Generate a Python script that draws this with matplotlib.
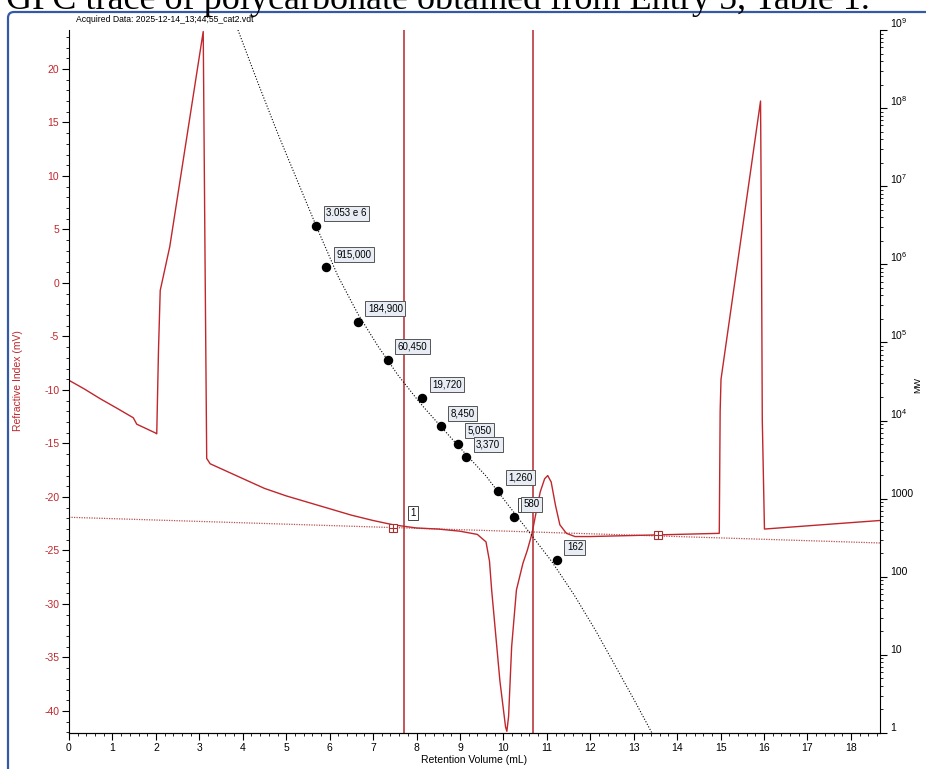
import matplotlib
matplotlib.use("Agg")
import matplotlib.pyplot as plt
import numpy as np
from matplotlib.patches import FancyBboxPatch
from matplotlib.ticker import FixedLocator, MultipleLocator, NullFormatter

plt.rcParams['font.family'] = ['Liberation Sans', 'DejaVu Sans']
plt.rcParams['mathtext.fontset'] = 'custom'
plt.rcParams['mathtext.rm'] = 'Liberation Sans'
plt.rcParams['axes.unicode_minus'] = False

# refractive index trace (mL, mV)
ri_x = [0.00, 0.35, 0.71, 1.10, 1.48, 1.56, 1.98, 2.02, 2.06, 2.10, 2.32, 3.09, 3.13, 3.17,
        3.25, 4.01, 4.50, 5.00, 5.50, 6.00, 6.50, 7.00, 7.46, 8.00, 8.50, 9.00, 9.40, 9.60,
        9.68, 9.73, 9.92, 10.05, 10.08, 10.12, 10.19, 10.30, 10.45, 10.55, 10.66, 10.75,
        10.85, 10.95, 11.02, 11.10, 11.20, 11.30, 11.45, 11.65, 12.00, 13.00, 14.00, 14.97,
        14.99, 15.01, 15.92, 15.94, 15.96, 16.01, 17.00, 18.00, 18.67]
ri_mv = [-9.1, -9.9, -10.8, -11.7, -12.6, -13.2, -14.0, -14.1, -6.3, -0.7, 3.4, 23.5, 3.1, -16.4,
         -16.9, -18.3, -19.2, -19.9, -20.5, -21.1, -21.7, -22.2, -22.6, -22.9, -23.0, -23.2, -23.5, -24.2,
         -26.0, -28.7, -37.2, -41.5, -41.9, -40.5, -34.0, -28.7, -26.2, -25.0, -23.4, -21.5,
         -19.5, -18.3, -18.0, -18.6, -20.8, -22.6, -23.4, -23.7, -23.7, -23.6, -23.5, -23.4,
         -12.0, -9.0, 17.0, 5.0, -12.8, -23.0, -22.7, -22.4, -22.2]

# integration baseline and its limits
baseline_x = [0.0, 18.67]
baseline_mv = [-21.9, -24.3]
limit_x = [7.46, 13.55]
limit_mv = [-22.86, -23.6]
peak_cursors = [7.72, 10.68]

# calibration curve (mL, molecular weight)
cal_x = [3.89, 4.35, 4.81, 5.27, 5.73, 6.19, 6.65, 7.11, 7.57, 8.08, 8.59, 9.09, 9.60,
         10.11, 10.61, 11.12, 11.63, 12.13, 12.59, 13.05, 13.42]
cal_mw = [1.0e9, 2.10e8, 4.67e7, 1.13e7, 2.75e6, 7.10e5, 2.32e5, 9.02e4, 3.84e4, 1.68e4,
          8.04e3, 3.96e3, 1.95e3, 830, 363, 155, 58.5, 20.2, 7.0, 2.42, 1.0]

# polystyrene standards
std_x = [5.69, 5.92, 6.65, 7.34, 8.13, 8.56, 8.95, 9.14, 9.88, 10.24, 11.23]
std_mw = [3.053e6, 915000, 184900, 60450, 19720, 8450, 5050, 3370, 1260, 580, 162]
std_labels = ['3.053 e 6', '915,000', '184,900', '60,450', '19,720', '8,450', '5,050',
              '3,370', '1,260', '580', '162']

# peak number tags (mL, mV)
tag_x = [7.92, 10.45]
tag_mv = [-21.5, -20.75]

red = '#c0262c'

fig = plt.figure(figsize=(9.26, 7.69), dpi=100)
W, H = 926, 769

# frame and caption
frame = FancyBboxPatch((8, -30), 960, 769 - 12 + 30, boxstyle='round,pad=0,rounding_size=6',
                       transform=None, facecolor='none', edgecolor='#3459a6', linewidth=1.6)
fig.add_artist(frame)
fig.text(6 / W, 1 - 9 / H, 'GPC trace of polycarbonate obtained from Entry 5, Table 1.',
         family='Liberation Serif', fontsize=26, va='baseline', ha='left', color='black')
fig.text(76 / W, 1 - 20 / H, 'Acquired Data: 2025-12-14_13;44;55_cat2.vdt',
         fontsize=6.2, va='center', ha='left')

ax = fig.add_axes([69 / W, 36 / H, (880 - 69) / W, (733 - 30) / H])
ax2 = ax.twinx()

ax.plot(baseline_x, baseline_mv, color='#b85050', lw=0.9, ls=(0, (1, 1)))
ax.plot(ri_x, ri_mv, color=red, lw=1.0)
for c in peak_cursors:
    ax.axvline(c, color='#b3282d', lw=1.1)
ax.plot(limit_x, limit_mv, ls='none', marker='s', ms=6, mfc='white', mec='#a83030', mew=0.8)
ax.plot(limit_x, limit_mv, ls='none', marker='+', ms=6, mec='#a83030', mew=0.8)
for tx, ty in zip(tag_x, tag_mv):
    ax.text(tx, ty, '1', fontsize=7, ha='center', va='center',
            bbox=dict(boxstyle='square,pad=0.25', fc='white', ec='#444444', lw=0.7))

ax.set_xlim(0, 18.67)
ax.set_ylim(-42.06, 23.64)
ax.xaxis.set_major_locator(MultipleLocator(1))
ax.xaxis.set_minor_locator(MultipleLocator(0.2))
ax.yaxis.set_major_locator(MultipleLocator(5))
ax.yaxis.set_minor_locator(MultipleLocator(1))
ax.tick_params(axis='x', which='major', length=5, width=0.8, labelsize=7.5, pad=2)
ax.tick_params(axis='x', which='minor', length=2.5, width=0.6)
ax.tick_params(axis='y', which='major', length=5, width=0.8, labelsize=7.5, labelcolor=red, pad=2)
ax.tick_params(axis='y', which='minor', length=2.5, width=0.6)
ax.spines['top'].set_visible(False)
ax.spines['right'].set_visible(False)

# calibration on the log axis
ax2.set_yscale('log')
ax2.set_ylim(1, 1e9)
ax2.plot(cal_x, cal_mw, color='black', lw=0.8, ls=(0, (1, 1.6)))
ax2.plot(std_x, std_mw, ls='none', marker='o', ms=5.8, color='black')
for sx, sm, lab in zip(std_x, std_mw, std_labels):
    ax2.annotate(lab, (sx, sm), xytext=(10, 13), textcoords='offset pixels',
                 fontsize=7, ha='left', va='center',
                 bbox=dict(boxstyle='square,pad=0.25', fc='#e8edf5', ec='#555555', lw=0.7))

decades = [10.0 ** k for k in range(0, 10)]
dec_labels = ['1', '10', '100', '1000'] + [r'$\mathregular{10^{%d}}$' % k for k in range(4, 10)]
ax2.yaxis.set_major_locator(FixedLocator(decades))
ax2.set_yticklabels(dec_labels)
ax2.yaxis.set_minor_formatter(NullFormatter())
ax2.tick_params(axis='y', which='major', length=5, width=0.8, labelsize=7.5, pad=2)
ax2.tick_params(axis='y', which='minor', length=2.5, width=0.6)
for lab in ax2.get_yticklabels():
    lab.set_verticalalignment('bottom')
ax2.spines['top'].set_visible(False)
ax2.spines['left'].set_visible(False)

fig.text(18 / W, 1 - 381 / H, 'Refractive Index (mV)', rotation=90, fontsize=7.5,
         color=red, ha='center', va='center')
fig.text(474.5 / W, 1 - 760 / H, 'Retention Volume (mL)', fontsize=7.5, ha='center', va='center')
fig.text(918 / W, 1 - 385 / H, 'MW', rotation=90, fontsize=6.5, ha='center', va='center')

fig.savefig('out.png', dpi=100, facecolor='white')
